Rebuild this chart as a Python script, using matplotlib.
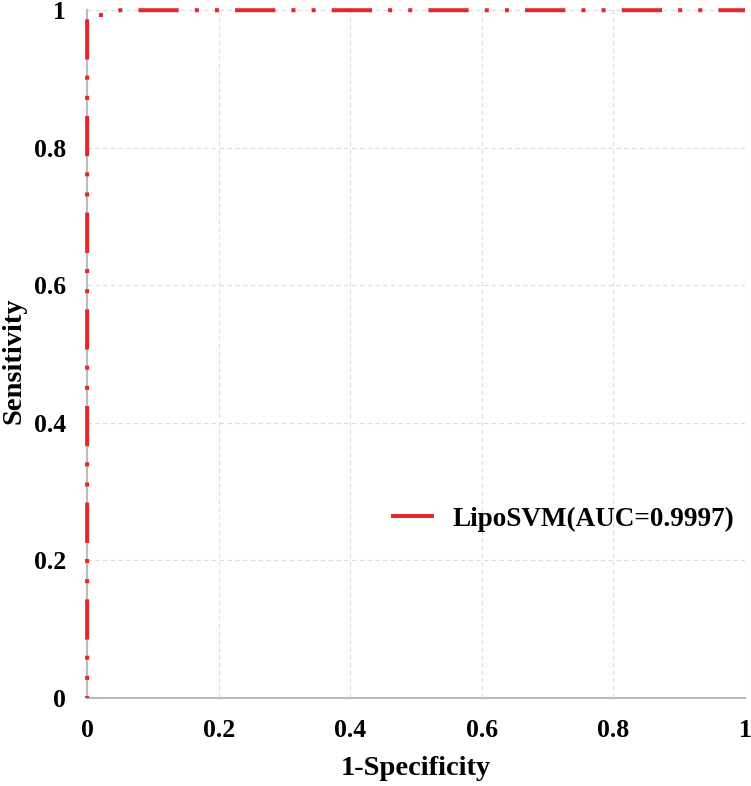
import matplotlib.pyplot as plt

# ROC-Kurve ablesen
fpr = [0.0, 0.0, 0.0, 0.03, 0.05, 1.0]
tpr = [0.0, 0.0, 0.993, 0.993, 1.0, 1.0]
label = 'LipoSVM(AUC=0.9997)'
ticks = [0, 0.2, 0.4, 0.6, 0.8, 1]
ticklabels = ['0', '0.2', '0.4', '0.6', '0.8', '1']

plt.rcParams['font.family'] = ['Liberation Serif', 'DejaVu Serif']
plt.rcParams['font.weight'] = 'bold'

fig = plt.figure(figsize=(7.51, 7.86), dpi=100)
ax = fig.add_axes([0.116, 0.112, 0.876, 0.875])

ax.plot(fpr, tpr, color='#e8262a', lw=2.9,
        linestyle=(9.5, (10, 4, 1, 4, 1, 4)), label=label, clip_on=False, zorder=3)

ax.set_xlim(0, 1)
ax.set_ylim(0, 1)
ax.set_xticks(ticks)
ax.set_yticks(ticks)
ax.set_xticklabels(ticklabels, fontsize=18.5, fontweight='bold')
ax.set_yticklabels(ticklabels, fontsize=18.5, fontweight='bold')
ax.tick_params(axis='x', length=0, pad=15.5)
ax.tick_params(axis='y', length=0, pad=15)
ax.grid(True, color='#dddddd', linestyle=(0, (4, 3)), lw=0.8)
for s in ['top', 'right']:
    ax.spines[s].set_visible(False)
for s in ['left', 'bottom']:
    ax.spines[s].set_color('#bbbbbb')
    ax.spines[s].set_linewidth(1.5)

ax.set_xlabel('1-Specificity', fontsize=20.5, fontweight='bold')
ax.set_ylabel('Sensitivity', fontsize=20.5, fontweight='bold')
ax.xaxis.set_label_coords(0.5, -0.084)
ax.yaxis.set_label_coords(-0.092, 0.49)

leg = ax.legend(loc='center left', bbox_to_anchor=(0.465, 0.26), frameon=False,
                prop={'size': 19.5, 'weight': 'bold'}, handlelength=1.45,
                handletextpad=0.75, borderpad=0, borderaxespad=0)
leg.get_lines()[0].set_linestyle('-')

fig.savefig('out.png', dpi=100)
